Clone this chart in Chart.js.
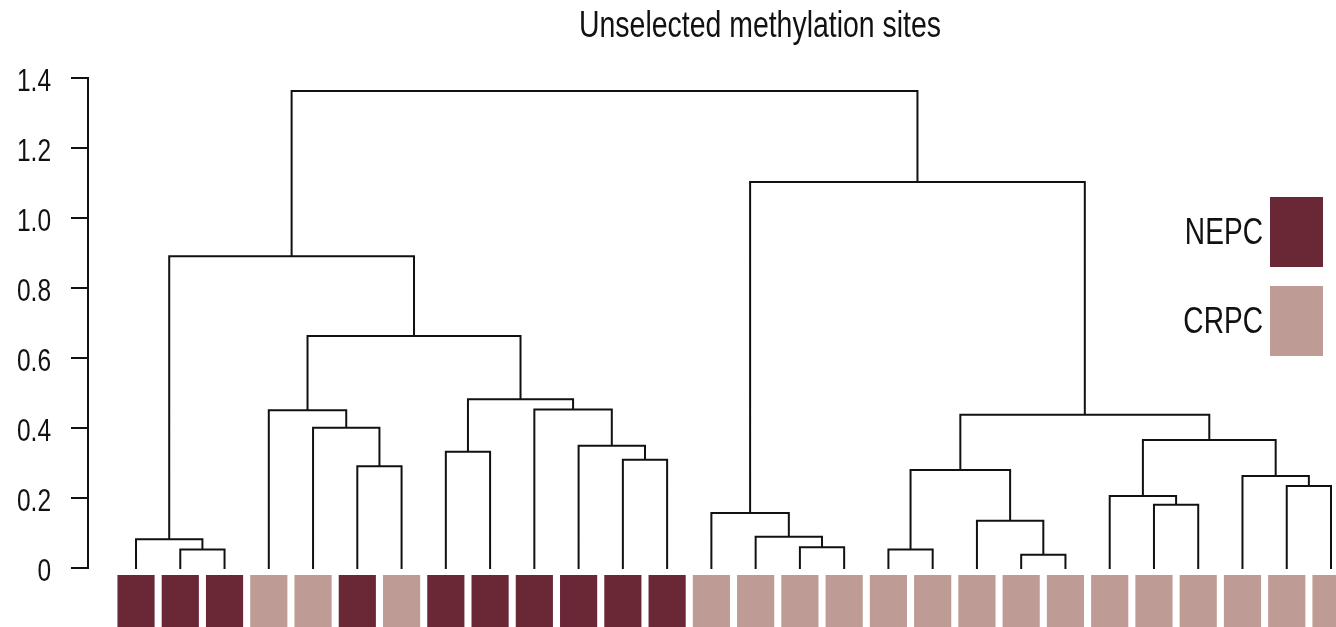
<!DOCTYPE html>
<html>
<head>
<meta charset="utf-8">
<title>Unselected methylation sites</title>
<script src="https://cdn.jsdelivr.net/npm/chart.js@4"></script>
<style>
  html, body { margin: 0; padding: 0; background: #ffffff; }
  #wrap { width: 1336px; height: 627px; }
</style>
</head>
<body>
<div id="wrap"><canvas id="dendro" width="1336" height="627"></canvas></div>
<script>
// Sample groups in dendrogram leaf order (left to right)
const leafGroups = [
  'NEPC', 'NEPC', 'NEPC', 'CRPC', 'CRPC', 'NEPC', 'CRPC',
  'NEPC', 'NEPC', 'NEPC', 'NEPC', 'NEPC', 'NEPC',
  'CRPC', 'CRPC', 'CRPC', 'CRPC', 'CRPC', 'CRPC', 'CRPC',
  'CRPC', 'CRPC', 'CRPC', 'CRPC', 'CRPC', 'CRPC', 'CRPC', 'CRPC'
];

// hclust-style merge table: negative = leaf (1-based position), positive = earlier merge step
const mergePairs = [
  [-21, -22], [-2, -3], [-18, -19], [-16, -17], [-1, 2], [-15, 4],
  [-20, 1], [-14, 6], [-24, -25], [-23, 9], [-27, -28], [-26, 11],
  [3, 7], [-6, -7], [-12, -13], [-8, -9], [-11, 15], [10, 12],
  [-5, 14], [13, 18], [-4, 19], [-10, 17], [16, 22], [21, 23],
  [5, 24], [8, 20], [25, 26]
];
const mergeHeights = [
  0.038, 0.053, 0.053, 0.059, 0.082, 0.089,
  0.135, 0.157, 0.181, 0.206, 0.234, 0.263,
  0.280, 0.291, 0.309, 0.332, 0.349, 0.366,
  0.401, 0.438, 0.451, 0.453, 0.482, 0.663,
  0.891, 1.103, 1.363
];

// Axis ticks
const yTickValues = [0, 0.2, 0.4, 0.6, 0.8, 1.0, 1.2, 1.4];
const yTickLabels = ['0', '0.2', '0.4', '0.6', '0.8', '1.0', '1.2', '1.4'];

// Group legend
const groupNames = ['NEPC', 'CRPC'];
const groupColors = ['#6a2837', '#be9b94'];

const chartTitle = 'Unselected methylation sites';

// ---- build dendrogram segments from the merge table ----
const nodeX = [];
const nodeY = [];
function childPos(c) {
  if (c < 0) return { x: -c - 1, y: 0 };
  return { x: nodeX[c - 1], y: nodeY[c - 1] };
}
const dendroPoints = [];
mergePairs.forEach((pair, i) => {
  const a = childPos(pair[0]);
  const b = childPos(pair[1]);
  const h = mergeHeights[i];
  nodeX[i] = (a.x + b.x) / 2;
  nodeY[i] = h;
  dendroPoints.push({ x: a.x, y: a.y }, { x: a.x, y: h }, { x: b.x, y: h }, { x: b.x, y: b.y });
  dendroPoints.push({ x: b.x, y: null });
});

// colour strip under the leaves: floating bars just below zero
const stripTop = -0.02;
const stripBottom = -0.17;
const stripData = leafGroups.map((g, i) => ({ x: i, y: [stripTop, stripBottom] }));
const stripColors = leafGroups.map(g => groupColors[groupNames.indexOf(g)]);

const FONT = "'Liberation Sans', Arial, Helvetica, sans-serif";
const INK = '#111111';

// condensed sans text (narrow Helvetica look)
function narrowText(ctx, text, x, y, size, sx, align) {
  ctx.save();
  ctx.font = size + 'px ' + FONT;
  ctx.textBaseline = 'alphabetic';
  ctx.textAlign = align;
  ctx.translate(x, y);
  ctx.scale(sx, 1);
  ctx.fillText(text, 0, 0);
  ctx.restore();
}

// axis spine from 0 to the top tick, plus tick labels
const axisPlugin = {
  id: 'axisSpine',
  afterDraw(chart) {
    const { ctx, scales: { y }, chartArea } = chart;
    ctx.save();
    ctx.strokeStyle = INK;
    ctx.lineWidth = 2;
    ctx.beginPath();
    ctx.moveTo(chartArea.left, y.getPixelForValue(yTickValues[yTickValues.length - 1]) - 1);
    ctx.lineTo(chartArea.left, y.getPixelForValue(0) + 1);
    ctx.stroke();
    ctx.fillStyle = INK;
    yTickValues.forEach((v, i) => {
      narrowText(ctx, yTickLabels[i], chartArea.left - 37, y.getPixelForValue(v) + 13, 31, 0.79, 'right');
    });
    ctx.restore();
  }
};

// title and group key
const annotatePlugin = {
  id: 'annotate',
  afterDraw(chart) {
    const { ctx } = chart;
    ctx.save();
    ctx.fillStyle = INK;
    narrowText(ctx, chartTitle, 760, 37, 36, 0.79, 'center');

    const boxX = 1270, boxW = 53;
    const boxTops = [197, 286];
    const boxH = 70;
    groupNames.forEach((name, i) => {
      ctx.fillStyle = groupColors[i];
      ctx.fillRect(boxX, boxTops[i], boxW, boxH);
      ctx.fillStyle = INK;
      narrowText(ctx, name, boxX - 7, boxTops[i] + 47, 37, 0.76, 'right');
    });
    ctx.restore();
  }
};

new Chart(document.getElementById('dendro'), {
  type: 'bar',
  data: {
    datasets: [
      {
        type: 'line',
        data: dendroPoints,
        borderColor: INK,
        borderWidth: 2,
        pointRadius: 0,
        tension: 0,
        spanGaps: false,
        borderCapStyle: 'square',
        borderJoinStyle: 'miter',
        order: 0
      },
      {
        type: 'bar',
        data: stripData,
        backgroundColor: stripColors,
        borderWidth: 0,
        barPercentage: 0.84,
        categoryPercentage: 1,
        order: 1
      }
    ]
  },
  options: {
    responsive: false,
    animation: false,
    devicePixelRatio: 1,
    layout: { padding: { top: 78, right: 0, bottom: 0, left: 0 } },
    plugins: {
      legend: { display: false },
      tooltip: { enabled: false },
      title: { display: false }
    },
    scales: {
      x: {
        type: 'linear',
        display: false,
        offset: false,
        min: -1.085,
        max: 27.113,
        grid: { display: false }
      },
      y: {
        type: 'linear',
        min: -0.1686,
        max: 1.4,
        border: { display: false },
        grid: {
          drawOnChartArea: false,
          drawTicks: true,
          tickLength: 17,
          color: INK,
          lineWidth: 2
        },
        ticks: { display: false },
        afterBuildTicks: (scale) => {
          scale.ticks = yTickValues.map(v => ({ value: v }));
        },
        afterFit: (scale) => {
          scale.width = 88;
          scale.paddingTop = 0;
          scale.paddingBottom = 0;
        }
      }
    }
  },
  plugins: [axisPlugin, annotatePlugin]
});
</script>
</body>
</html>
